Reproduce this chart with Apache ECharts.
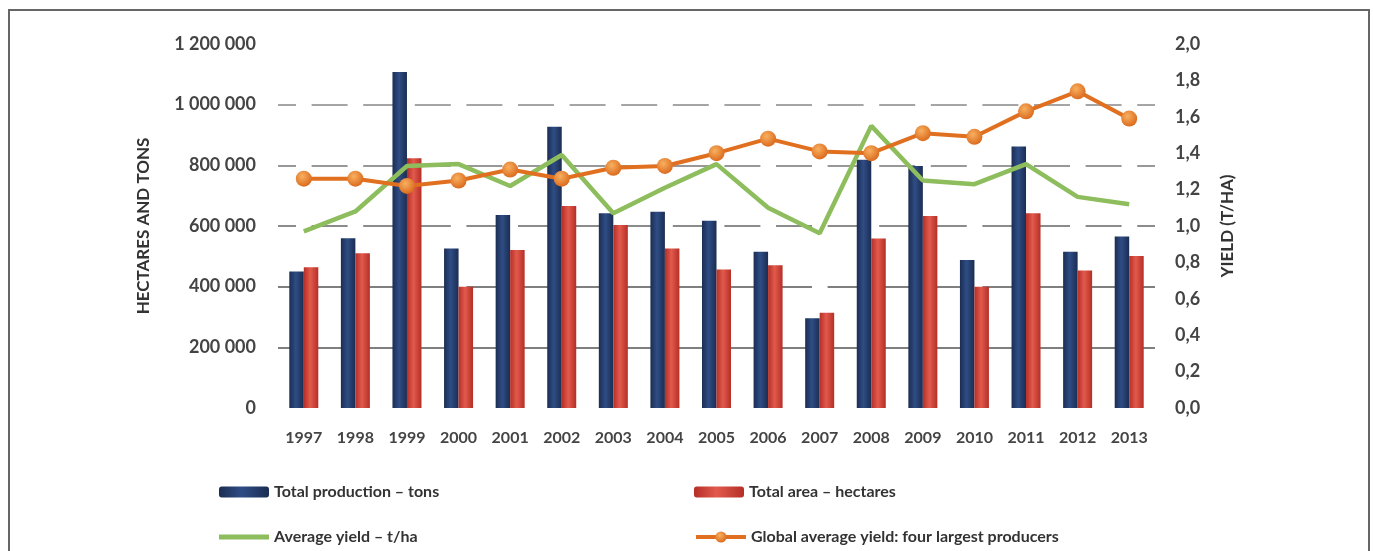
<!DOCTYPE html>
<html>
<head>
<meta charset="utf-8">
<script src="https://cdn.jsdelivr.net/npm/echarts@6/dist/echarts.min.js"></script>
<style>
  html, body { margin: 0; padding: 0; background: #fff; }
  #chart { width: 1373px; height: 551px; }
</style>
</head>
<body>
<div id="chart"></div>
<script>
// 数据
var years = ['1997', '1998', '1999', '2000', '2001', '2002', '2003', '2004', '2005',
  '2006', '2007', '2008', '2009', '2010', '2011', '2012', '2013'];
var totalProduction = [450000, 560000, 1108000, 526000, 636000, 927000, 642000, 647000, 617000,
  515000, 296000, 818000, 798000, 488000, 862000, 515000, 565000];
var totalArea = [464000, 510000, 823000, 400000, 521000, 666000, 603000, 526000, 457000,
  471000, 314000, 559000, 633000, 400000, 642000, 453000, 501000];
var averageYield = [0.97, 1.08, 1.33, 1.34, 1.22, 1.39, 1.07, 1.21, 1.34,
  1.10, 0.96, 1.55, 1.25, 1.23, 1.34, 1.16, 1.12];
var globalYield = [1.26, 1.26, 1.22, 1.25, 1.31, 1.26, 1.32, 1.33, 1.40,
  1.48, 1.41, 1.40, 1.51, 1.49, 1.63, 1.74, 1.59];

(function() {
  var myChart = echarts.init(document.getElementById('chart'));

  var font = 'Lato, "Open Sans", sans-serif';
  var txt = '#444';

  function grad(a, b) {
    return new echarts.graphic.LinearGradient(0, 0, 1, 0, [
      { offset: 0, color: a },
      { offset: 0.45, color: b },
      { offset: 1, color: a }
    ]);
  }

  var legendText = { fontFamily: font, fontSize: 16, fontWeight: 'bold', color: '#333' };

  var option = {
    animation: false,
    graphic: [{
      type: 'rect',
      shape: { x: 9, y: 10, width: 1360, height: 600 },
      style: { fill: 'none', stroke: '#666', lineWidth: 2 }
    }],
    grid: { left: 278, right: 218, top: 44, bottom: 143 },
    legend: [
      { left: 214, top: 479, itemWidth: 50, itemHeight: 11, textStyle: legendText, data: ['Total production – tons'] },
      { left: 689, top: 479, itemWidth: 50, itemHeight: 11, textStyle: legendText, data: ['Total area – hectares'] },
      { left: 214, top: 524, itemWidth: 50, itemHeight: 5, textStyle: legendText,
        data: [{ name: 'Average yield – t/ha', icon: 'rect' }] },
      { left: 689, top: 524, itemWidth: 50, itemHeight: 14, textStyle: legendText,
        lineStyle: { width: 4 },
        data: ['Global average yield: four largest producers'] }
    ],
    xAxis: {
      type: 'category',
      data: years,
      axisLine: { show: false },
      axisTick: { show: false },
      axisLabel: { margin: 22, fontFamily: font, fontSize: 16, fontWeight: 'bold', color: txt }
    },
    yAxis: [
      {
        type: 'value',
        min: 0, max: 1200000, interval: 200000,
        name: 'HECTARES AND TONS',
        nameLocation: 'middle',
        nameGap: 126,
        nameTextStyle: { fontFamily: font, fontSize: 17, fontWeight: 'bold', color: '#333' },
        axisLine: { show: false },
        axisTick: { show: false },
        axisLabel: {
          margin: 22, fontFamily: font, fontSize: 18, fontWeight: 'bold', color: txt,
          formatter: function(v) { return String(v).replace(/\B(?=(\d{3})+(?!\d))/g, ' '); }
        },
        splitLine: {
          lineStyle: {
            color: ['rgba(0,0,0,0)', '#555', '#555', '#666', '#777', '#888', 'rgba(0,0,0,0)'],
            width: 1.5,
            type: [36, 15.6],
            dashOffset: 18
          }
        }
      },
      {
        type: 'value',
        min: 0, max: 2, interval: 0.2,
        name: 'YIELD (T/HA)',
        nameLocation: 'middle',
        nameGap: 64,
        nameRotate: 90,
        nameTextStyle: { fontFamily: font, fontSize: 17, fontWeight: 'bold', color: '#333' },
        axisLine: { show: false },
        axisTick: { show: false },
        axisLabel: {
          margin: 20, fontFamily: font, fontSize: 18, fontWeight: 'bold', color: txt,
          formatter: function(v) { return v.toFixed(1).replace('.', ','); }
        },
        splitLine: { show: false }
      }
    ],
    series: [
      {
        name: 'Total production – tons',
        type: 'bar',
        barWidth: 14.5,
        barGap: '0%',
        itemStyle: { color: grad('#1b2d52', '#2f4d85') },
        data: totalProduction
      },
      {
        name: 'Total area – hectares',
        type: 'bar',
        barWidth: 14.5,
        barGap: '0%',
        itemStyle: { color: grad('#b52f27', '#e25a4c') },
        data: totalArea
      },
      {
        name: 'Average yield – t/ha',
        type: 'line',
        yAxisIndex: 1,
        symbol: 'none',
        lineStyle: { color: '#8dbd5c', width: 4.5 },
        itemStyle: { color: '#8dbd5c' },
        data: averageYield
      },
      {
        name: 'Global average yield: four largest producers',
        type: 'line',
        yAxisIndex: 1,
        symbol: 'circle',
        symbolSize: 16,
        lineStyle: { color: '#e0701f', width: 4 },
        itemStyle: {
          color: new echarts.graphic.RadialGradient(0.4, 0.35, 0.7, [
            { offset: 0, color: '#f8b060' },
            { offset: 1, color: '#d9661a' }
          ])
        },
        data: globalYield
      }
    ]
  };

  myChart.setOption(option);
})();
</script>
</body>
</html>
